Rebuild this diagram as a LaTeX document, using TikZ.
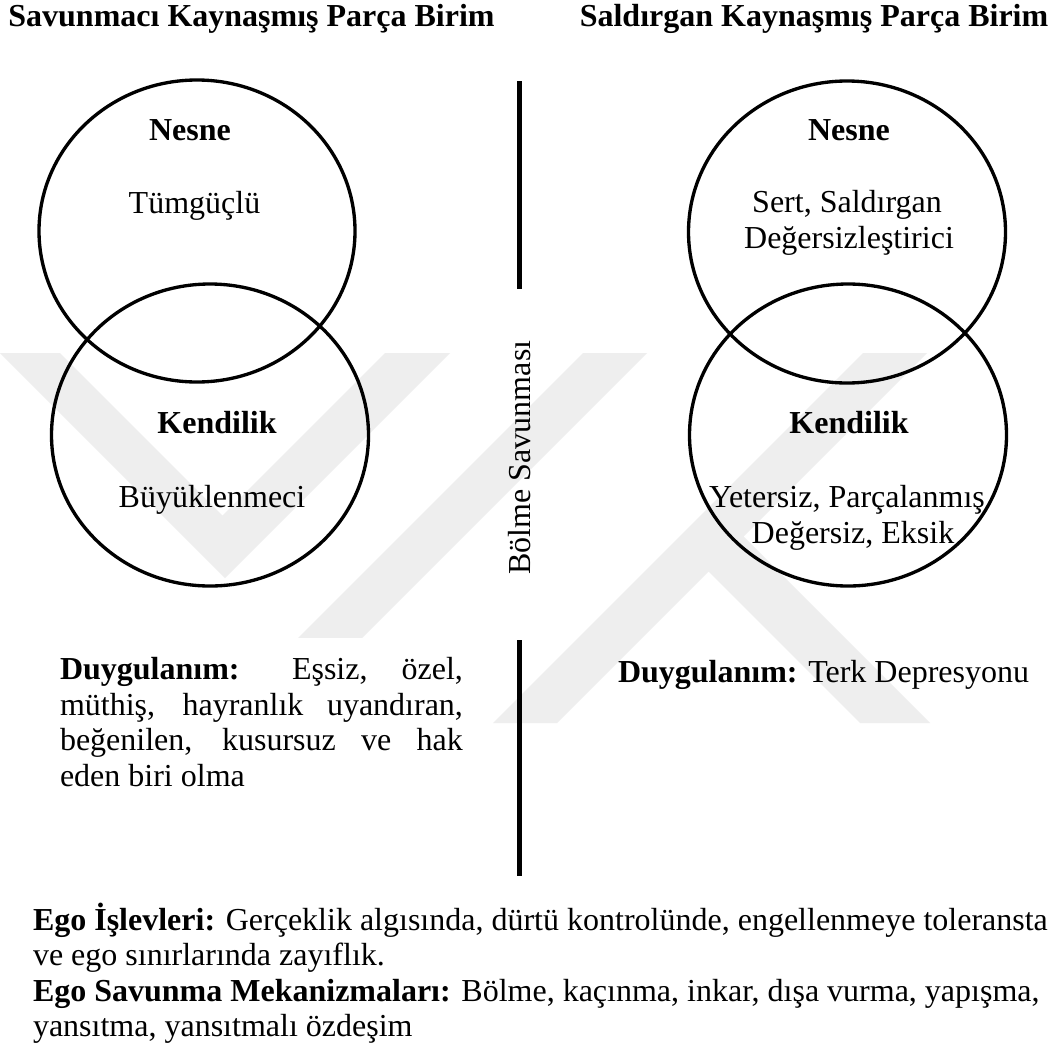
\documentclass[tikz,border=0pt]{standalone}
\usepackage{fontspec}
\setmainfont{Liberation Serif}
\definecolor{wmgray}{RGB}{238,238,238}
\tikzset{
  ring/.style={line width=1.25pt, draw=black},
  sepline/.style={line width=1.9pt, draw=black},
  lbl/.style={anchor=base, inner sep=0pt, outer sep=0pt, font=\fontsize{12}{13.3}\selectfont},
  hd/.style={lbl, font=\fontsize{12}{13.3}\selectfont\bfseries},
  para/.style={anchor=north west, inner sep=0pt, outer sep=0pt, font=\fontsize{12}{13.3}\selectfont},
  wm/.style={fill=wmgray, draw=none},
}
\begin{document}
\begin{tikzpicture}[x=0.375pt, y=-0.375pt]
\useasboundingbox (0,0) rectangle (1057,1053);
\fill[white] (0,0) rectangle (1057,1053);

% faint watermark
\fill[wm] (0,353) -- (60,353) -- (222.5,515.5) -- (385,353) -- (450,353) -- (225,578) -- cycle;
\fill[wm] (583,353) -- (647,353) -- (277,723) -- (213,723) -- cycle;
\fill[wm] (863,353) -- (927,353) -- (743.5,536.5) -- (930,723) -- (860,723)
          -- (708.5,571.5) -- (557,723) -- (493,723) -- cycle;
\fill[white] (37,638) rectangle (482,800);

% titles
\node[hd] (tleft) at (251.5,27) {Savunmacı Kaynaşmış Parça Birim};
\node[hd] (tright) at (814,27) {Saldırgan Kaynaşmış Parça Birim};

% left unit
\draw[ring] (197,231) ellipse [x radius=158, y radius=151];
\draw[ring] (210,435) ellipse [x radius=158.5, y radius=151];
\node[hd] (lnesne) at (190,140) {Nesne};
\node[lbl] (ltum) at (194.5,213) {Tümgüçlü};
\node[hd] (lkend) at (217,433) {Kendilik};
\node[lbl] (lbuy) at (212,507) {Büyüklenmeci};

% right unit
\draw[ring] (847,232) ellipse [x radius=158.5, y radius=151];
\draw[ring] (848,435) ellipse [x radius=158.5, y radius=151];
\node[hd] (rnesne) at (849,140) {Nesne};
\node[lbl] (rsert) at (847,212) {Sert, Saldırgan};
\node[lbl] (rdeg) at (849,248) {Değersizleştirici};
\node[hd] (rkend) at (849,433) {Kendilik};
\node[lbl] (ryet) at (847,507) {Yetersiz, Parçalanmış};
\node[lbl] (reks) at (853,543) {Değersiz, Eksik};

% splitting defence
\coordinate (s1a) at (519.5,81);
\coordinate (s1b) at (519.5,289);
\coordinate (s2a) at (519.5,640);
\coordinate (s2b) at (519.5,876);
\draw[sepline] (s1a) -- (s1b);
\draw[sepline] (s2a) -- (s2b);
\node[lbl, rotate=90] (bolme) at (530,457.5) {Bölme Savunması};

% affects
\node[para, text width=151.1pt, align=justify] (dleft) at (60,655)
  {\strut\textbf{Duygulanım:} Eşsiz, özel,\linebreak müthiş, hayranlık uyandıran,\linebreak beğenilen, kusursuz ve hak\linebreak eden biri olma};
\node[lbl, anchor=base west] (dright) at (618,682) {\textbf{Duygulanım:} Terk Depresyonu};

% ego
\node[para, align=left] (ego) at (33,903)
  {\strut\textbf{Ego İşlevleri:} Gerçeklik algısında, dürtü kontrolünde, engellenmeye toleransta\\
   ve ego sınırlarında zayıflık.\\
   \textbf{Ego Savunma Mekanizmaları:} Bölme, kaçınma, inkar, dışa vurma, yapışma,\\
   yansıtma, yansıtmalı özdeşim};
\end{tikzpicture}
\end{document}
